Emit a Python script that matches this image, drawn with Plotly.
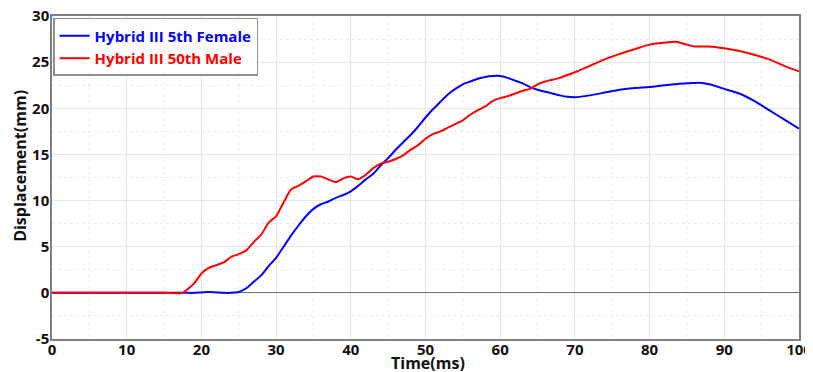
import plotly.graph_objects as go

t_female = [0, 5, 10, 15, 18, 19, 20, 21, 22, 23, 24, 25, 26, 27, 28, 29, 30, 31, 32, 33, 34, 35, 36, 37, 38, 39,
            40, 41, 42, 43, 44, 45, 46, 47, 48, 49, 50, 51, 52, 53, 54, 55, 56, 57, 58, 59, 60, 61, 62, 63, 64,
            65, 66, 67, 68, 69, 70, 72, 74, 76, 78, 80, 82, 84, 86, 87, 88, 90, 92, 94, 96, 98, 100]
female = [0, 0, 0, 0, 0, 0, 0.05, 0.1, 0.05, 0.0, 0.0, 0.1, 0.5, 1.2, 1.9, 2.9, 3.8, 5.0, 6.2, 7.3, 8.3, 9.1, 9.6,
          9.9, 10.3, 10.6, 11.0, 11.6, 12.3, 12.9, 13.8, 14.6, 15.5, 16.3, 17.1, 18.0, 19.0, 19.9, 20.7, 21.5,
          22.1, 22.6, 22.9, 23.2, 23.4, 23.5, 23.5, 23.3, 23.0, 22.7, 22.3, 22.0, 21.8, 21.6, 21.4, 21.25, 21.2,
          21.4, 21.7, 22.0, 22.2, 22.3, 22.5, 22.65, 22.75, 22.75, 22.6, 22.1, 21.6, 20.8, 19.8, 18.8, 17.8]

t_male = [0, 5, 10, 15, 17.5, 18, 19, 20, 21, 22, 23, 24, 25, 26, 27, 28, 29, 30, 31, 32, 33, 34, 35, 36, 37, 38,
          39, 40, 41, 42, 43, 44, 45, 46, 47, 48, 49, 50, 51, 52, 53, 54, 55, 56, 57, 58, 59, 60, 61, 62, 63, 64,
          65, 66, 67, 68, 69, 70, 72, 74, 76, 78, 80, 82, 83.5, 85, 86, 88, 90, 92, 94, 96, 98, 100]
male = [0, 0, 0, 0, 0, 0.3, 1.0, 2.1, 2.7, 3.0, 3.3, 3.9, 4.2, 4.6, 5.5, 6.3, 7.6, 8.3, 9.8, 11.2, 11.6, 12.1,
        12.6, 12.6, 12.3, 12.0, 12.4, 12.6, 12.3, 12.8, 13.5, 14.0, 14.2, 14.5, 14.9, 15.5, 16.0, 16.7, 17.2,
        17.5, 17.9, 18.3, 18.7, 19.3, 19.8, 20.2, 20.8, 21.1, 21.3, 21.6, 21.9, 22.1, 22.6, 22.9, 23.1, 23.3,
        23.6, 23.9, 24.6, 25.3, 25.9, 26.4, 26.9, 27.1, 27.2, 26.9, 26.7, 26.7, 26.5, 26.2, 25.8, 25.3, 24.6, 24.0]

x_ticks = [0, 10, 20, 30, 40, 50, 60, 70, 80, 90, 100]
y_ticks = [-5, 0, 5, 10, 15, 20, 25, 30]

fig = go.Figure()
fig.add_trace(go.Scatter(x=t_female, y=female, mode="lines", line=dict(color="#0000ff", width=2, shape="spline", smoothing=0.6),
                         name="<span style='color:#0000ff'><b>Hybrid III 5th Female</b></span>"))
fig.add_trace(go.Scatter(x=t_male, y=male, mode="lines", line=dict(color="#ff0000", width=2, shape="spline", smoothing=0.6),
                         name="<span style='color:#ff0000'><b>Hybrid III 50th Male</b></span>"))

axis_common = dict(
    showline=True, linecolor="#808080", linewidth=1.5, mirror=True,
    showgrid=True, gridcolor="#e6e6e6", gridwidth=1,
    zeroline=True, zerolinecolor="#707070", zerolinewidth=1.2,
    ticks="", automargin=False, ticklabeloverflow="allow",
    tickfont=dict(family="Open Sans", size=15, color="#111111", weight="bold"),
)

# The page body has an 8px default margin, so the figure is sized to fill the 813x372 window.
fig.update_layout(
    width=805, height=364,
    margin=dict(l=44, r=14, t=8, b=33),
    paper_bgcolor="white", plot_bgcolor="white",
    font=dict(family="Open Sans", color="#111111"),
    xaxis=dict(range=[0, 100], tickvals=x_ticks, ticktext=[str(v) for v in x_ticks],
               minor=dict(dtick=5, showgrid=True, gridcolor="#ececec", griddash="dot", gridwidth=1),
               ticklabelstandoff=-4,
               **axis_common),
    yaxis=dict(range=[-5, 30], tickvals=y_ticks, ticktext=[str(v) for v in y_ticks],
               minor=dict(dtick=2.5, showgrid=True, gridcolor="#ececec", griddash="dot", gridwidth=1),
               ticklabelstandoff=-2,
               **axis_common),
    annotations=[
        dict(text="<b>Time(ms)</b>", xref="paper", yref="paper", x=0.5, y=0, xanchor="center",
             yanchor="middle", xshift=2, yshift=-24, showarrow=False,
             font=dict(family="Open Sans", size=16, color="#111111")),
        dict(text="<b>Displacement(mm)</b>", xref="paper", yref="paper", x=0, y=0.536, xanchor="center",
             yanchor="middle", xshift=-32, textangle=-90, showarrow=False,
             font=dict(family="Open Sans", size=16, color="#111111")),
    ],
    showlegend=True,
    legend=dict(x=0.0015, y=0.994, xanchor="left", yanchor="top",
                bgcolor="white", bordercolor="#909090", borderwidth=1.5,
                font=dict(family="Open Sans", size=15), tracegroupgap=0,
                itemwidth=30),
)

fig.write_html("out.html")
